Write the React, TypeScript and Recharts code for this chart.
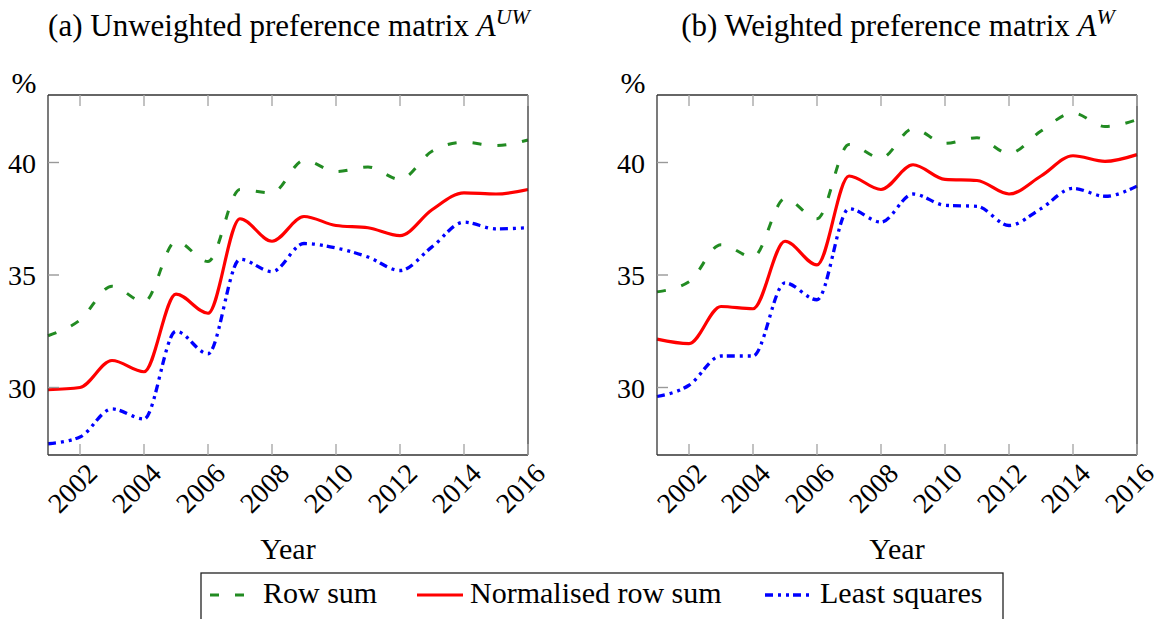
import React from 'react';
import { LineChart, Line, XAxis, YAxis, CartesianGrid } from 'recharts';

const years = [2001, 2002, 2003, 2004, 2005, 2006, 2007, 2008, 2009, 2010, 2011, 2012, 2013, 2014, 2015, 2016];
const xTicks = [2002, 2004, 2006, 2008, 2010, 2012, 2014, 2016];
const yTicks = [30, 35, 40];

// (a) unweighted preference matrix
const uwRowSum = [32.3, 33.0, 34.5, 33.8, 36.5, 35.6, 38.8, 38.65, 40.1, 39.6, 39.8, 39.25, 40.5, 40.9, 40.75, 41.0];
const uwNormalised = [29.9, 30.0, 31.2, 30.7, 34.15, 33.3, 37.5, 36.5, 37.6, 37.2, 37.1, 36.75, 37.9, 38.65, 38.6, 38.8];
const uwLeastSquares = [27.5, 27.8, 29.05, 28.6, 32.5, 31.5, 35.7, 35.15, 36.4, 36.2, 35.8, 35.2, 36.25, 37.35, 37.05, 37.1];

// (b) weighted preference matrix
const wRowSum = [34.25, 34.7, 36.35, 35.8, 38.4, 37.5, 40.8, 40.2, 41.5, 40.85, 41.1, 40.4, 41.4, 42.2, 41.6, 41.9];
const wNormalised = [32.15, 31.95, 33.6, 33.5, 36.5, 35.45, 39.4, 38.8, 39.9, 39.25, 39.2, 38.6, 39.4, 40.3, 40.05, 40.35];
const wLeastSquares = [29.6, 30.1, 31.4, 31.4, 34.65, 33.9, 37.95, 37.35, 38.6, 38.1, 38.05, 37.2, 37.95, 38.85, 38.5, 38.95];

const FONT = '"Liberation Serif", "Times New Roman", serif';

const buildRows = (rowSum: number[], norm: number[], lsq: number[]) =>
  years.map((year, i) => ({ year, rowSum: rowSum[i], norm: norm[i], lsq: lsq[i] }));

const uwData = buildRows(uwRowSum, uwNormalised, uwLeastSquares);
const wData = buildRows(wRowSum, wNormalised, wLeastSquares);

const BottomTick = (props: any) => {
  const { x, y, payload } = props;
  const tx = x + 19;
  const ty = y + 20;
  return (
    <g>
      <line x1={x} y1={y} x2={x} y2={y - 11} stroke="#a8a8a8" strokeWidth={1.4} />
      <text x={tx} y={ty} textAnchor="end" transform={`rotate(-45 ${tx} ${ty})`} fontFamily={FONT} fontSize={28} fill="#000">
        {payload.value}
      </text>
    </g>
  );
};

const TopTick = (props: any) => {
  const { x, y } = props;
  return <line x1={x} y1={y} x2={x} y2={y + 11} stroke="#a8a8a8" strokeWidth={1.4} />;
};

const LeftTick = (props: any) => {
  const { x, y, payload } = props;
  return (
    <g>
      <line x1={x} y1={y} x2={x + 11} y2={y} stroke="#999" strokeWidth={1.4} />
      <text x={x - 12} y={y + 10} textAnchor="end" fontFamily={FONT} fontSize={28} fill="#000">
        {payload.value}
      </text>
    </g>
  );
};

const RightTick = (props: any) => {
  const { x, y } = props;
  return <line x1={x} y1={y} x2={x - 11} y2={y} stroke="#999" strokeWidth={1.4} />;
};

const frame = { stroke: '#333', strokeWidth: 1.3 };

// grid only at the labelled y ticks, placed through the axis scale
const gridRows = (props: any) => {
  const scale = props && props.yAxis && props.yAxis.scale;
  return typeof scale === 'function' ? yTicks.map((t) => scale(t)) : [];
};

const Panel = ({ data, width, right }: { data: any[]; width: number; right: number }) => (
  <LineChart width={width} height={619} data={data} margin={{ top: 94, right: right - 1, bottom: 163, left: 47 }}>
    <CartesianGrid vertical={false} stroke="#c6c6c6" strokeWidth={1.2} horizontalCoordinatesGenerator={gridRows} />
    <XAxis dataKey="year" type="number" domain={[2001, 2016]} ticks={xTicks} interval={0}
      height={1} tickSize={0} tickMargin={0} tickLine={false} axisLine={frame} tick={<BottomTick />} />
    <XAxis xAxisId="top" orientation="top" dataKey="year" type="number" domain={[2001, 2016]} ticks={xTicks} interval={0}
      height={1} tickSize={0} tickMargin={0} tickLine={false} axisLine={frame} tick={<TopTick />} />
    <YAxis type="number" domain={[27, 43]} ticks={yTicks} interval={0}
      width={1} tickSize={0} tickMargin={0} tickLine={false} axisLine={frame} tick={<LeftTick />} />
    <YAxis yAxisId="right" orientation="right" type="number" domain={[27, 43]} ticks={yTicks} interval={0}
      width={1} tickSize={0} tickMargin={0} tickLine={false} axisLine={frame} tick={<RightTick />} />
    <Line dataKey="rowSum" type="monotone" stroke="#228b22" strokeWidth={3} strokeDasharray="9 16" dot={false} isAnimationActive={false} />
    <Line dataKey="lsq" type="monotone" stroke="#0000ff" strokeWidth={3.3} strokeDasharray="8 5 3 5 3 4" dot={false} isAnimationActive={false} />
    <Line dataKey="norm" type="monotone" stroke="#ff0000" strokeWidth={3.2} dot={false} isAnimationActive={false} />
  </LineChart>
);

export default function App() {
  return (
    <div style={{ position: 'absolute', left: 0, top: 0, width: 1161, height: 619, overflow: 'hidden', background: '#fff' }}>
      <div style={{ position: 'absolute', left: 0, top: 0 }}>
        <Panel data={uwData} width={580} right={52} />
      </div>
      <div style={{ position: 'absolute', left: 609, top: 0 }}>
        <Panel data={wData} width={552} right={24} />
      </div>
      <svg width={1161} height={619} style={{ position: 'absolute', left: 0, top: 0, pointerEvents: 'none' }} fontFamily={FONT}>
        <text x={289} y={36} textAnchor="middle" fontSize={31} fill="#000">
          (a) Unweighted preference matrix <tspan fontStyle="italic">A</tspan>
          <tspan fontStyle="italic" fontSize={22} dy={-12}>UW</tspan>
        </text>
        <text x={898} y={36} textAnchor="middle" fontSize={31} fill="#000">
          (b) Weighted preference matrix <tspan fontStyle="italic">A</tspan>
          <tspan fontStyle="italic" fontSize={22} dy={-12}>W</tspan>
        </text>
        <text x={24} y={93} textAnchor="middle" fontSize={30} fill="#000">%</text>
        <text x={633} y={93} textAnchor="middle" fontSize={30} fill="#000">%</text>
        <text x={288} y={559} textAnchor="middle" fontSize={30} fill="#000">Year</text>
        <text x={897} y={559} textAnchor="middle" fontSize={30} fill="#000">Year</text>

        <rect x={201} y={573} width={802} height={70} fill="none" stroke="#222" strokeWidth={1.3} />
        <line x1={210} y1={595} x2={244} y2={595} stroke="#228b22" strokeWidth={3} strokeDasharray="9 16" />
        <text x={263} y={603} fontSize={30} fill="#000">Row sum</text>
        <line x1={417} y1={595} x2={463} y2={595} stroke="#ff0000" strokeWidth={3.2} />
        <text x={470} y={603} fontSize={30} fill="#000">Normalised row sum</text>
        <line x1={765} y1={595} x2={812} y2={595} stroke="#0000ff" strokeWidth={3.3} strokeDasharray="8 5 3 5 3 4" />
        <text x={820} y={603} fontSize={30} fill="#000">Least squares</text>
      </svg>
    </div>
  );
}
